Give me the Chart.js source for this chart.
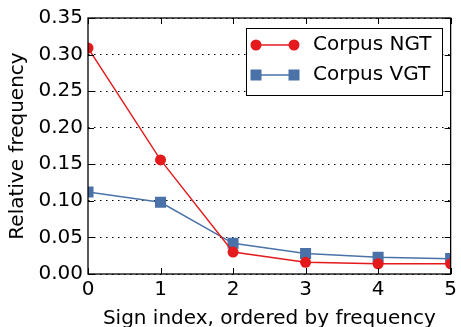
<!DOCTYPE html>
<html>
<head>
<meta charset="utf-8">
<script src="https://cdn.jsdelivr.net/npm/chart.js@4/dist/chart.umd.min.js"></script>
<style>
  html, body { margin: 0; padding: 0; background: #fff; }
  #wrap { width: 461px; height: 327px; }
</style>
</head>
<body>
<div id="wrap"><canvas id="chart" width="461" height="327"></canvas></div>
<script>
const signIndex = [0, 1, 2, 3, 4, 5];
const ngtFreq = [0.309, 0.156, 0.030, 0.016, 0.014, 0.014];
const vgtFreq = [0.112, 0.098, 0.042, 0.028, 0.023, 0.021];
const seriesLabels = ['Corpus NGT', 'Corpus VGT'];

const RED = '#e41a1c';
const BLUE = '#4a72a8';
const FONT = 'DejaVu Sans';

// matplotlib-style frame with inward ticks on all four sides
const framePlugin = {
  id: 'frame',
  afterDraw(chart) {
    const { ctx, chartArea: a, scales } = chart;
    ctx.save();
    ctx.strokeStyle = '#000';
    ctx.lineWidth = 1;
    const len = 6;
    ctx.beginPath();
    scales.x.ticks.forEach(t => {
      const px = Math.round(scales.x.getPixelForValue(t.value)) + 0.5;
      ctx.moveTo(px, a.bottom); ctx.lineTo(px, a.bottom - len);
      ctx.moveTo(px, a.top); ctx.lineTo(px, a.top + len);
    });
    scales.y.ticks.forEach(t => {
      const py = Math.round(scales.y.getPixelForValue(t.value)) + 0.5;
      ctx.moveTo(a.left, py); ctx.lineTo(a.left + len, py);
      ctx.moveTo(a.right, py); ctx.lineTo(a.right - len, py);
    });
    ctx.stroke();
    ctx.lineWidth = 1.3;
    ctx.strokeRect(a.left, a.top, a.right - a.left, a.bottom - a.top);

    // legend box, top right
    const bx = 246.5, by = 28.5, bw = 196, bh = 67;
    ctx.fillStyle = '#fff';
    ctx.fillRect(bx, by, bw, bh);
    ctx.lineWidth = 1;
    ctx.strokeRect(bx, by, bw, bh);
    chart.data.datasets.forEach((ds, i) => {
      const y = 45 + i * 30;
      const x0 = 256, x1 = 294;
      ctx.strokeStyle = ds.borderColor;
      ctx.lineWidth = ds.borderWidth;
      ctx.beginPath(); ctx.moveTo(x0, y); ctx.lineTo(x1, y); ctx.stroke();
      ctx.fillStyle = ds.pointBackgroundColor;
      [x0, x1].forEach(x => {
        if (ds.pointStyle === 'rect') {
          ctx.fillRect(x - 5.5, y - 5.5, 11, 11);
        } else {
          ctx.beginPath(); ctx.arc(x, y, 5.5, 0, Math.PI * 2); ctx.fill();
        }
      });
      ctx.fillStyle = '#000';
      ctx.font = '20px "' + FONT + '"';
      ctx.textBaseline = 'middle';
      ctx.textAlign = 'left';
      ctx.fillText(ds.label, 313, y);
    });
    ctx.restore();
  }
};

new Chart(document.getElementById('chart').getContext('2d'), {
  type: 'line',
  data: {
    datasets: [
      {
        label: seriesLabels[0],
        data: signIndex.map((x, i) => ({ x, y: ngtFreq[i] })),
        borderColor: RED,
        backgroundColor: RED,
        pointBackgroundColor: RED,
        pointBorderWidth: 0,
        pointRadius: 5.5,
        pointStyle: 'circle',
        borderWidth: 1.4,
        clip: 0
      },
      {
        label: seriesLabels[1],
        data: signIndex.map((x, i) => ({ x, y: vgtFreq[i] })),
        borderColor: BLUE,
        backgroundColor: BLUE,
        pointBackgroundColor: BLUE,
        pointBorderWidth: 0,
        pointRadius: 7.8,
        pointStyle: 'rect',
        borderWidth: 1.5,
        clip: 0
      }
    ]
  },
  options: {
    responsive: false,
    animation: false,
    layout: { padding: { left: 0, right: 9, top: 18, bottom: 0 } },
    plugins: { legend: { display: false }, tooltip: { enabled: false } },
    scales: {
      x: {
        type: 'linear',
        min: 0, max: 5,
        grid: { display: false, drawTicks: false },
        border: { display: false },
        ticks: { stepSize: 1, padding: 4, color: '#000', font: { family: FONT, size: 20 } },
        title: { display: true, text: 'Sign index, ordered by frequency', color: '#000',
                 font: { family: FONT, size: 20 }, padding: { top: 0, bottom: -4 } },
        afterFit(scale) { scale.height = 53; }
      },
      y: {
        min: 0, max: 0.35,
        grid: { color: '#000', lineWidth: 1, drawTicks: false },
        border: { display: false, dash: [1.5, 4.5] },
        ticks: { stepSize: 0.05, padding: 5, color: '#000', font: { family: FONT, size: 20 },
                 callback: v => v.toFixed(2) },
        title: { display: true, text: 'Relative frequency', color: '#000',
                 font: { family: FONT, size: 20 }, padding: { top: 6, bottom: 0 } },
        afterFit(scale) { scale.width = 88; }
      }
    }
  },
  plugins: [framePlugin]
});
</script>
</body>
</html>
